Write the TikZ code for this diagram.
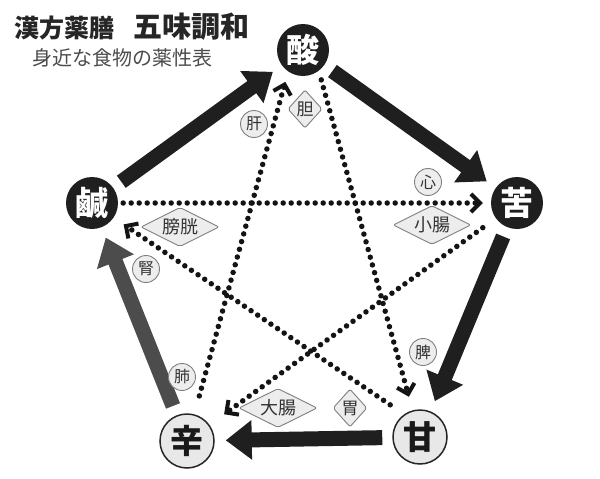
\documentclass[tikz,border=0pt]{standalone}
\usepackage{fontspec}
\newfontfamily\cjk{Noto Sans CJK JP}
\usetikzlibrary{arrows.meta,shapes.geometric}
\begin{document}
\begin{tikzpicture}[x=1pt,y=-1pt,
  five/.style={circle, minimum size=52pt, inner sep=0pt, font=\cjk\bfseries\fontsize{33}{33}\selectfont},
  darkfive/.style={five, fill=black!88, text=white},
  lightfive/.style={five, minimum size=54pt, fill=black!9, draw=black!85, line width=1.5pt, text=black!90},
  organc/.style={circle, minimum size=27pt, inner sep=0pt, fill=black!7, draw=black!50, line width=0.9pt, text=black!80, font=\cjk\fontsize{16}{16}\selectfont},
  organd/.style={diamond, aspect=2, inner sep=1.5pt, fill=black!7, draw=black!50, line width=0.9pt, rounded corners=2pt, text=black!80, font=\cjk\fontsize{18}{18}\selectfont},
  organd1/.style={organd, aspect=0.9, inner sep=1pt, font=\cjk\fontsize{17}{17}\selectfont},
  bigarrow/.style={line width=15pt, draw=black!88, shorten <=10pt, shorten >=11pt, -{Triangle[length=26pt,width=38pt]}},
  dotarrow/.style={line width=5.5pt, line cap=round, dash pattern=on 0pt off 8pt, draw=black!92, -{Straight Barb[length=9pt,width=18pt,line width=4pt]}}
]
\useasboundingbox[fill=white] (0,0) rectangle (600,479);

% title
\node[anchor=west, inner sep=0pt, text=black!85, font=\cjk\bfseries\fontsize{25}{25}\selectfont] (t1) at (14,28) {漢方薬膳};
\node[anchor=west, inner sep=0pt, text=black!85, font=\cjk\bfseries\fontsize{29}{29}\selectfont] (t2) at (133,27) {五味調和};
\node[anchor=west, inner sep=0pt, text=black!70, font=\cjk\fontsize{20}{20}\selectfont] (t3) at (32,58) {身近な食物の薬性表};

% five flavours
\node[darkfive] (san) at (303,50) {酸};
\node[darkfive] (ku) at (517,203) {苦};
\node[lightfive] (kan) at (420,437) {甘};
\node[lightfive] (shin) at (187,441) {辛};
\node[darkfive] (kan2) at (92,203) {鹹};

% dotted star
\draw[dotarrow, shorten <=31pt, shorten >=14pt] ([xshift=10pt]san.center) -- (kan);
\draw[dotarrow, shorten <=19pt, shorten >=33pt] (shin) -- ([xshift=-9pt]san.center);
\draw[dotarrow, shorten <=5pt, shorten >=8pt] (kan2) -- (ku);
\draw[dotarrow, shorten <=16pt, shorten >=18pt] (ku) -- (shin);
\draw[dotarrow, shorten <=36pt, shorten >=12pt] ([shift={(0,-12)}]kan.center) -- (kan2);

% thick cycle
\draw[bigarrow] (kan2) -- (san);
\draw[bigarrow] (san) -- (ku);
\draw[bigarrow] (ku) -- (kan);
\draw[bigarrow] (kan) -- (shin);
\draw[bigarrow, draw=black!70] (shin) -- (kan2);

% organs
\node[organc] (kanzo) at (254,124) {肝};
\node[organd1] (tan) at (305,109) {胆};
\node[organc] (shinzo) at (428,182) {心};
\node[organd] (shocho) at (432,225) {小腸};
\node[organc] (hi) at (423,352) {脾};
\node[organd1] (i) at (350,408) {胃};
\node[organd] (daicho) at (278,408) {大腸};
\node[organc] (hai) at (182,377) {肺};
\node[organc] (jin) at (146,269) {腎};
\node[organd] (boko) at (180,227) {膀胱};
\end{tikzpicture}
\end{document}
